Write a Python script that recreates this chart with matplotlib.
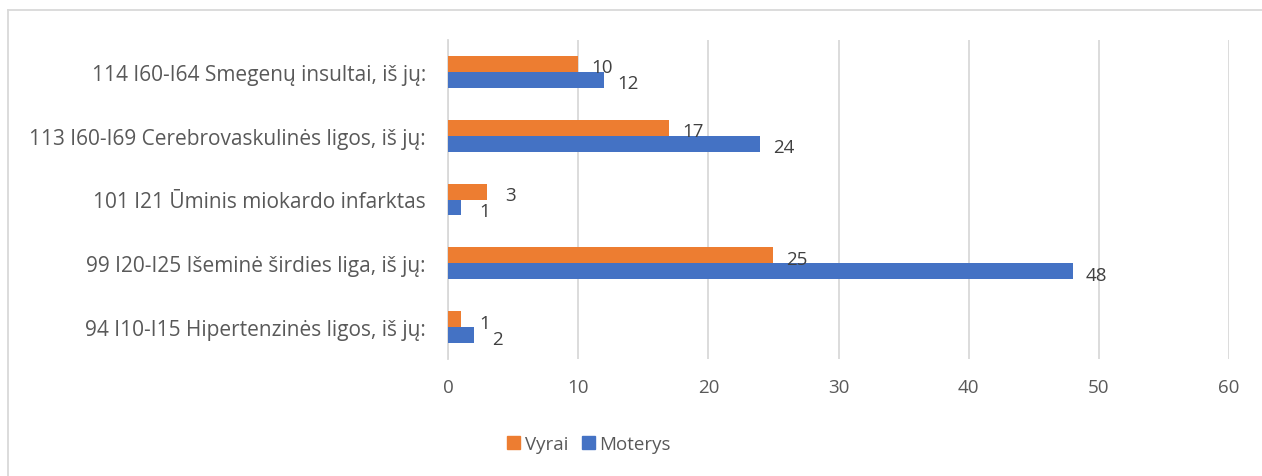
import matplotlib
matplotlib.use("Agg")
import matplotlib.pyplot as plt
from matplotlib.patches import Patch
from matplotlib.lines import Line2D
import numpy as np

plt.rcParams['font.family'] = ['Open Sans', 'DejaVu Sans']

categories = [
    "94 I10-I15 Hipertenzinės ligos, iš jų:",
    "99 I20-I25 Išeminė širdies liga, iš jų:",
    "101 I21 Ūminis miokardo infarktas",
    "113 I60-I69 Cerebrovaskulinės ligos, iš jų:",
    "114 I60-I64 Smegenų insultai, iš jų:",
]
vyrai = [1, 25, 3, 17, 10]
moterys = [2, 48, 1, 24, 12]
xticks = [0, 10, 20, 30, 40, 50, 60]

ORANGE = "#ED7D31"
BLUE = "#4472C4"
TXT = "#595959"
GRID = "#D9D9D9"

W, H = 1262, 477
fig = plt.figure(figsize=(W / 100, H / 100), dpi=100)
ax = fig.add_axes([448 / W, 1 - 360 / H, (1229 - 448) / W, (360 - 41) / H])

y = np.arange(len(categories))
h = 0.25
b1 = ax.barh(y + h / 2, vyrai, height=h, color=ORANGE, label="Vyrai", zorder=3)
b2 = ax.barh(y - h / 2, moterys, height=h, color=BLUE, label="Moterys", zorder=3)

for bars, vals in ((b1, vyrai), (b2, moterys)):
    for rect, v in zip(bars, vals):
        ax.annotate(str(v), (rect.get_width(), rect.get_y() + rect.get_height() / 2),
                    xytext=(17, -2.5), textcoords="offset points",
                    ha="center", va="center", fontsize=13.5, color="#404040")

ax.set_xlim(0, 60)
ax.set_ylim(-0.5, len(categories) - 0.5)
ax.set_xticks(xticks)
ax.set_xticklabels([str(t) for t in xticks])
ax.set_yticks(y)
ax.set_yticklabels(categories)
ax.tick_params(axis="x", length=0, pad=14, labelsize=13.5, labelcolor=TXT)
ax.tick_params(axis="y", length=0, pad=16, labelsize=15, labelcolor=TXT)
ax.grid(axis="x", color=GRID, linewidth=1.3, zorder=0)
for s in ("top", "right", "bottom"):
    ax.spines[s].set_visible(False)
ax.spines["left"].set_color(GRID)
ax.spines["left"].set_linewidth(1.3)

handles = [Patch(color=ORANGE, label="Vyrai"), Patch(color=BLUE, label="Moterys")]
fig.legend(handles=handles, loc="center", bbox_to_anchor=(589 / W, 1 - 445 / H),
           ncol=2, frameon=False, fontsize=13.5, labelcolor=TXT,
           handlelength=0.7, handleheight=0.7, handletextpad=0.25, columnspacing=0.7)

# chart frame
fig.add_artist(Line2D([8 / W, 1.0], [1 - 11 / H, 1 - 11 / H], transform=fig.transFigure,
                      color=GRID, linewidth=1.3))
fig.add_artist(Line2D([8 / W, 8 / W], [1 - 11 / H, 0], transform=fig.transFigure,
                      color=GRID, linewidth=1.3))

fig.savefig("out.png", dpi=100, facecolor="white")
